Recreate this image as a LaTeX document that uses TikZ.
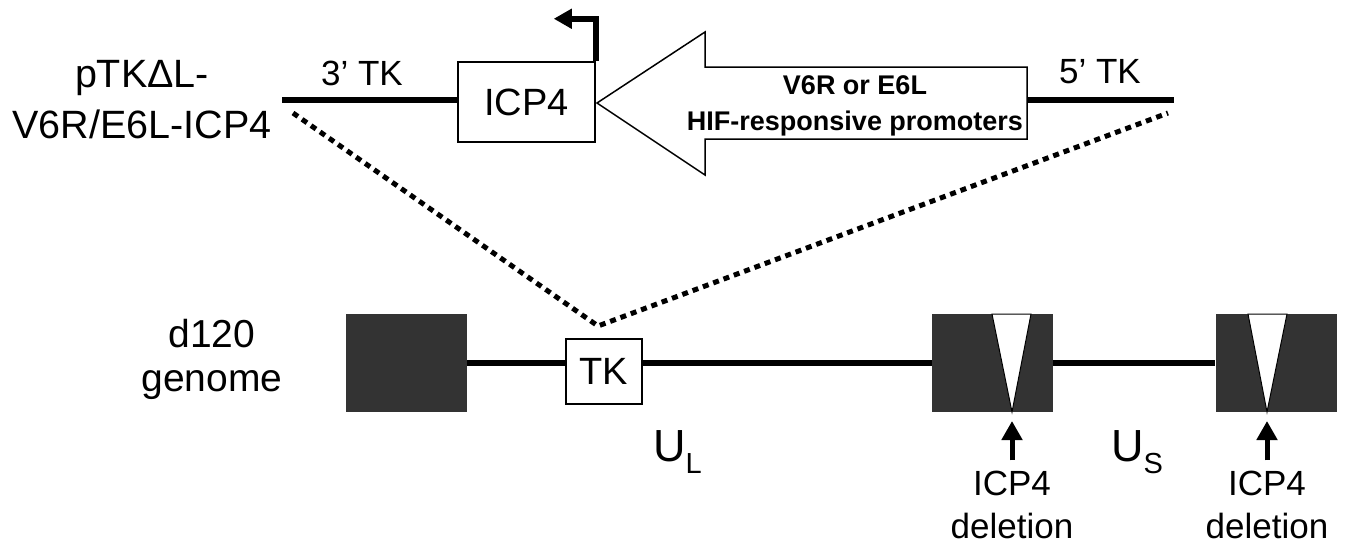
\documentclass[tikz,border=0pt]{standalone}
\usepackage{fontspec}
\setmainfont{Liberation Sans}
\usepackage{tikz}
\usetikzlibrary{arrows.meta,positioning,calc}
\definecolor{genomegray}{RGB}{51,51,51}
\newcommand{\lowsub}[1]{\raisebox{-12pt}{\fontsize{29}{29}\selectfont #1}}

\begin{document}
\begin{tikzpicture}[
            x=1pt, y=-1pt,
            lbl/.style={font=\fontsize{35}{43}\selectfont, align=center, inner sep=0pt},
            genebox/.style={rectangle, draw=black, line width=1.5pt, fill=white,
                            inner sep=0pt, font=\fontsize{38}{44}\selectfont},
            region/.style={rectangle, fill=genomegray, inner sep=0pt,
                           minimum width=121pt, minimum height=98pt},
            dna/.style={line width=6pt},
            insert/.style={line width=5pt, dash pattern=on 6pt off 5pt},
            pointer/.style={line width=5pt, -{Triangle[width=20pt,length=19pt]}},
            gap/.style={fill=white, draw=black, line width=1pt}
        ]
            \useasboundingbox (0,0) rectangle (1347,547);

            % targeting plasmid
            \node[lbl, font=\fontsize{39.5}{51}\selectfont] (plasmid) at (142,100) {pTKΔL-\\V6R/E6L-ICP4};
            \node[genebox, minimum width=137pt, minimum height=80pt] (icp4) at (526.5,102) {ICP4};
            \coordinate (tk3) at (282,100);
            \coordinate (tk5) at (1174,100);
            \coordinate (promend) at (1027,100);
            \coordinate (promtip) at (597,103);
            \node[lbl, anchor=base] (tk3lbl) at (362,85) {3’ TK};
            \node[lbl, anchor=base] (tk5lbl) at (1100,83) {5’ TK};

            \draw[dna] (tk3) -- (tk3 -| icp4.west);
            \draw[dna] (promend) -- (tk5);
            \draw[line width=1.5pt, fill=white] (promtip) -- (705,32) -- (705,67) -- (1027,67)
                -- (1027,139) -- (705,139) -- (705,175) -- cycle;
            \node[font=\bfseries\fontsize{27}{36}\selectfont, align=center, inner sep=0pt] (prom)
                at (855,106) {V6R or E6L\\HIF-responsive promoters};
            \draw[line width=6pt, -{Triangle[width=19pt,length=18pt]}]
                (icp4.north east) -- ++(0,-42.5) -- ++(-42,0);

            % d120 genome
            \node[lbl, font=\fontsize{39}{44}\selectfont] (genome) at (212,359) {d120\\genome};
            \node[region] (ul1) at (406.5,363) {};
            \node[region] (rep1) at (992.5,363) {};
            \node[region] (rep2) at (1276,363) {};
            \node[genebox, minimum width=76pt, minimum height=65pt] (tk) at (604,371.5) {TK};
            \coordinate (ins) at (598,326);
            \coordinate (cutl) at (293,113);
            \coordinate (cutr) at (1168,113);

            \draw[dna] (ul1.east) -- (ul1.east -| tk.west);
            \draw[dna] (tk.east |- ul1.east) -- (rep1.west);
            \draw[dna] (rep1.east) -- (rep2.west);
            \draw[insert] (cutl) -- (ins) -- (cutr);

            \coordinate (del1) at (1012,412);
            \coordinate (del2) at (1267,412);
            \draw[gap] (del1) -- (992,314) -- (1031,314) -- cycle;
            \draw[gap] (del2) -- (1248,314) -- (1287,314) -- cycle;

            \node[lbl] (del1lbl) at (1012,504.5) {ICP4\\deletion};
            \node[lbl] (del2lbl) at (1267,504.5) {ICP4\\deletion};
            \draw[pointer] ([yshift=10pt]del1lbl.north) -- ([yshift=-9pt]del1);
            \draw[pointer] ([yshift=10pt]del2lbl.north) -- ([yshift=-9pt]del2);

            \node[font=\fontsize{45}{45}\selectfont, anchor=base west, inner sep=0pt] (ul) at (653,461) {U\lowsub{L}};
            \node[font=\fontsize{45}{45}\selectfont, anchor=base west, inner sep=0pt] (us) at (1111,461) {U\lowsub{S}};
        \end{tikzpicture}
\end{document}
